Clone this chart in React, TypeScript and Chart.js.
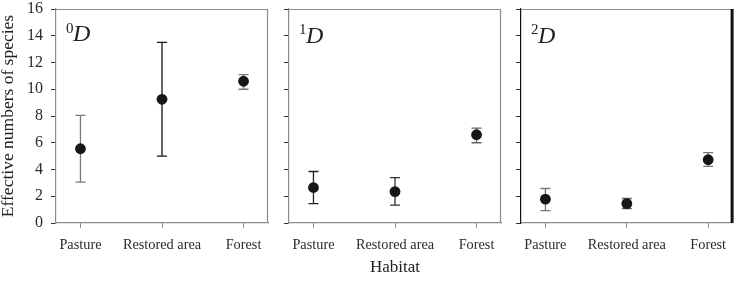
import React, { useEffect, useRef } from 'react';
import { Chart, registerables } from 'chart.js';
Chart.register(...registerables);

const categories = ['Pasture', 'Restored area', 'Forest'];
const panelOrders = ['0', '1', '2'];
const yTickValues = [0, 2, 4, 6, 8, 10, 12, 14, 16];

const mean0 = [5.55, 9.25, 10.6];
const lower0 = [3.05, 5.0, 10.0];
const upper0 = [8.05, 13.5, 11.1];

const mean1 = [2.65, 2.35, 6.6];
const lower1 = [1.45, 1.33, 6.0];
const upper1 = [3.85, 3.4, 7.1];

const mean2 = [1.78, 1.45, 4.73];
const lower2 = [0.93, 1.08, 4.23];
const upper2 = [2.58, 1.83, 5.26];

const means = [mean0, mean1, mean2];
const lowers = [lower0, lower1, lower2];
const uppers = [upper0, upper1, upper2];

// styling / layout (not data)
const W = 738;
const H = 281;
const FONT = "'Liberation Serif', 'Times New Roman', serif";
const areas = [
  { left: 56, right: 268, yw: 56 },
  { left: 289, right: 501, yw: 10 },
  { left: 521, right: 733, yw: 10 },
];
const errColors = [
  ['#7a7a7a', '#151515', '#7a7a7a'],
  ['#222222', '#333333', '#666666'],
  ['#777777', '#666666', '#777777'],
];
const GRAY = '#8c8c8c';

function makeConfig(i: number): any {
  const a = areas[i];
  const errorBars = {
    id: 'errorBars' + i,
    beforeDatasetsDraw(chart: any) {
      const { ctx, scales } = chart;
      const xs = scales.x;
      const ys = scales.y;
      ctx.save();
      ctx.lineWidth = 1.3;
      for (let k = 0; k < categories.length; k++) {
        const px = xs.getPixelForValue(k + 1);
        const pt = ys.getPixelForValue(uppers[i][k]);
        const pb = ys.getPixelForValue(lowers[i][k]);
        ctx.strokeStyle = errColors[i][k];
        ctx.beginPath();
        ctx.moveTo(px, pt);
        ctx.lineTo(px, pb);
        ctx.moveTo(px - 5, pt);
        ctx.lineTo(px + 5, pt);
        ctx.moveTo(px - 5, pb);
        ctx.lineTo(px + 5, pb);
        ctx.stroke();
      }
      ctx.restore();
    },
  };
  const frame = {
    id: 'frame' + i,
    afterDraw(chart: any) {
      const { ctx, chartArea } = chart;
      const { left, right, top, bottom } = chartArea;
      ctx.save();
      ctx.strokeStyle = GRAY;
      ctx.lineWidth = 1.2;
      ctx.beginPath();
      ctx.moveTo(left, top + 0.5);
      ctx.lineTo(right, top + 0.5);
      if (i < 2) {
        ctx.moveTo(right - 0.5, top);
        ctx.lineTo(right - 0.5, bottom);
      }
      ctx.stroke();
      if (i === 2) {
        ctx.strokeStyle = '#111';
        ctx.lineWidth = 3;
        ctx.beginPath();
        ctx.moveTo(right - 0.5, top);
        ctx.lineTo(right - 0.5, bottom);
        ctx.stroke();
      }
      // panel label: order superscript + italic D
      ctx.fillStyle = '#222';
      ctx.textBaseline = 'alphabetic';
      ctx.textAlign = 'left';
      ctx.font = `15px ${FONT}`;
      ctx.fillText(panelOrders[i], left + 10, top + (i === 0 ? 24 : 25));
      ctx.font = `italic 24px ${FONT}`;
      ctx.fillText('D', left + 17, top + (i === 0 ? 32 : 34));
      ctx.restore();
    },
  };
  return {
    type: 'scatter',
    data: {
      datasets: [
        {
          data: means[i].map((v, k) => ({ x: k + 1, y: v })),
          pointRadius: 5.4,
          pointHoverRadius: 5.4,
          backgroundColor: '#161616',
          borderColor: '#161616',
          borderWidth: 0,
        },
      ],
    },
    options: {
      responsive: false,
      animation: false,
      events: [],
      layout: {
        padding: { left: a.left - a.yw, right: W - a.right, top: 9, bottom: 0 },
      },
      plugins: {
        legend: { display: false },
        tooltip: { enabled: false },
      },
      scales: {
        x: {
          type: 'linear',
          min: 0.7,
          max: 3.3,
          afterBuildTicks: (s: any) => {
            s.ticks = categories.map((_, k) => ({ value: k + 1 }));
          },
          afterFit: (s: any) => {
            s.height = H - 223;
            s.paddingLeft = 0;
            s.paddingRight = 0;
            s.paddingTop = 0;
            s.paddingBottom = 0;
          },
          ticks: {
            autoSkip: false,
            maxRotation: 0,
            padding: 9,
            color: '#2a2a2a',
            font: { family: FONT, size: 14.3 },
            callback: (v: any) => categories[Math.round(v) - 1] ?? '',
          },
          grid: {
            drawOnChartArea: false,
            drawTicks: true,
            tickLength: 5,
            color: GRAY,
          },
          border: { display: true, color: GRAY, width: 1.2 },
          title: {
            display: i === 1,
            text: 'Habitat',
            color: '#222',
            font: { family: FONT, size: 17, lineHeight: 1 },
            padding: { top: 0, bottom: 4.5 },
          },
        },
        y: {
          type: 'linear',
          min: 0,
          max: 16,
          afterBuildTicks: (s: any) => {
            s.ticks = yTickValues.map((v) => ({ value: v }));
          },
          afterFit: (s: any) => {
            s.width = a.yw;
            s.paddingLeft = 0;
            s.paddingRight = 0;
            s.paddingTop = 0;
            s.paddingBottom = 0;
          },
          ticks: {
            display: i === 0,
            padding: 8,
            color: '#2a2a2a',
            font: { family: FONT, size: 16 },
          },
          grid: {
            drawOnChartArea: false,
            drawTicks: true,
            tickLength: 5,
            color: '#333',
          },
          border: { display: true, color: i === 2 ? '#111' : GRAY, width: 1.2 },
          title: {
            display: i === 0,
            text: 'Effective numbers of species',
            color: '#222',
            font: { family: FONT, size: 17.5, lineHeight: 1 },
            padding: { top: 0, bottom: 0 },
          },
        },
      },
    },
    plugins: [errorBars, frame],
  };
}

export default function App() {
  const r0 = useRef<HTMLCanvasElement>(null);
  const r1 = useRef<HTMLCanvasElement>(null);
  const r2 = useRef<HTMLCanvasElement>(null);
  const refs = [r0, r1, r2];
  useEffect(() => {
    const charts = refs.map((r, i) => new Chart(r.current as HTMLCanvasElement, makeConfig(i)));
    return () => charts.forEach((c) => c.destroy());
  }, []);
  return (
    <div style={{ position: 'absolute', left: 0, top: 0, width: W, height: H, background: '#fff' }}>
      {refs.map((r, i) => (
        <canvas
          key={i}
          ref={r}
          width={W}
          height={H}
          style={{ position: 'absolute', left: 0, top: 0, width: W, height: H }}
        />
      ))}
    </div>
  );
}
